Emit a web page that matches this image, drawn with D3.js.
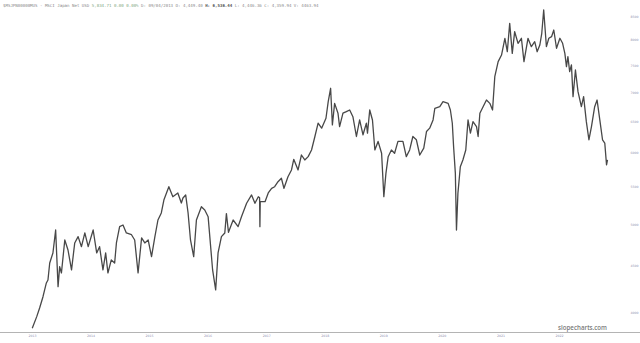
<!DOCTYPE html>
<html>
<head>
<meta charset="utf-8">
<script src="https://cdn.jsdelivr.net/npm/d3@7/dist/d3.min.js"></script>
<style>
  html, body { margin: 0; padding: 0; background: #fff; }
  svg { display: block; }
</style>
</head>
<body>
<svg id="chart" width="640" height="343"></svg>
<script>
// ---- data ----
const dates = [
"2013-01-15","2013-02-12","2013-03-02","2013-03-23","2013-04-13","2013-04-23","2013-05-04","2013-05-24","2013-06-10","2013-06-25","2013-07-05","2013-07-16","2013-08-06","2013-08-26","2013-09-17","2013-10-07","2013-10-28","2013-11-18","2013-12-09","2013-12-30",
"2014-01-30","2014-02-21","2014-03-11","2014-04-01","2014-04-18","2014-05-02","2014-05-23","2014-06-13","2014-06-24","2014-07-14","2014-08-04","2014-08-25","2014-09-26","2014-10-16","2014-11-06","2014-11-28","2014-12-18",
"2015-01-08","2015-01-29","2015-02-19","2015-03-10","2015-03-31","2015-04-16","2015-05-17","2015-06-11","2015-07-12","2015-08-03","2015-08-13","2015-08-30","2015-09-14","2015-09-29","2015-10-19","2015-11-05","2015-12-06","2015-12-27",
"2016-01-17","2016-02-14","2016-03-04","2016-03-19","2016-04-09","2016-04-30","2016-05-10","2016-05-23","2016-06-21","2016-07-22","2016-08-12","2016-09-13","2016-10-14","2016-11-04","2016-11-25","2016-12-03","2016-12-05","2016-12-07",
"2017-01-06","2017-01-26","2017-02-16","2017-03-07","2017-03-28","2017-04-18","2017-05-04","2017-05-29","2017-06-20","2017-07-04","2017-07-31","2017-08-21","2017-09-11","2017-10-02","2017-10-23","2017-11-13","2017-12-03","2017-12-25",
"2018-01-21","2018-02-04","2018-02-19","2018-03-02","2018-03-16","2018-04-06","2018-04-16","2018-05-07","2018-05-28","2018-06-18","2018-07-08","2018-07-30","2018-08-19","2018-09-09","2018-09-30","2018-10-07","2018-10-21","2018-11-07","2018-11-22","2018-12-12",
"2019-01-03","2019-01-17","2019-01-30","2019-02-13","2019-03-05","2019-03-25","2019-04-15","2019-05-16","2019-06-06","2019-06-27","2019-07-17","2019-08-08","2019-08-29","2019-09-23","2019-10-10","2019-10-30","2019-11-20","2019-12-01",
"2020-01-01","2020-01-21","2020-02-22","2020-03-07","2020-03-19","2020-03-27","2020-04-07","2020-04-14","2020-04-23","2020-05-08","2020-05-24","2020-06-11","2020-06-25","2020-07-10","2020-07-26","2020-08-17","2020-08-27","2020-09-07","2020-09-27","2020-10-18","2020-11-08","2020-11-25","2020-12-09","2020-12-30",
"2021-01-20","2021-02-10","2021-02-25","2021-03-12","2021-03-28","2021-04-12","2021-05-03","2021-05-24","2021-06-09","2021-07-04","2021-07-25","2021-08-15","2021-08-30","2021-09-16","2021-09-28","2021-10-10","2021-10-27","2021-11-11","2021-11-28","2021-12-12","2021-12-29",
"2022-01-19","2022-02-05","2022-02-19","2022-03-01","2022-03-10","2022-03-21","2022-04-01","2022-04-11","2022-04-26","2022-05-12","2022-06-02","2022-06-16","2022-07-03","2022-07-19","2022-08-04","2022-08-24","2022-09-08","2022-09-25","2022-10-12","2022-10-26","2022-11-06","2022-11-12"
];
const closeValues = [
3837,3953,4041,4159,4307,4340,4532,4649,4929,4267,4490,4418,4805,4684,4452,4769,4846,4724,4892,4724,
4929,4649,4724,4452,4649,4418,4567,4532,4769,4971,4992,4892,4870,4805,4418,4830,4769,
4805,4605,4846,5056,5147,5320,5503,5365,5416,5280,5347,5389,5147,4805,4605,5056,5230,5187,
5099,4452,4231,4649,4846,4892,5140,4900,5056,4971,5099,5276,5389,5276,5365,5350,4971,5297,
5297,5416,5481,5503,5574,5623,5481,5645,5743,5901,5743,5966,5891,5941,6043,6254,6469,6388,
6551,6834,7071,6441,6805,6636,6414,6636,6662,6691,6578,6254,6523,6281,6469,6308,6691,6523,6043,6176,
5992,5365,5694,5941,6043,5992,6176,6176,5941,6043,6254,6202,5966,6072,6333,6388,6523,6720,
6747,6834,6805,6691,6469,6097,5694,4929,5413,5791,5891,6043,6523,6308,6495,6414,6254,6636,6747,6863,6805,6691,7283,7567,
7696,8031,7761,8343,7729,8167,7929,8031,7567,8031,7861,7962,7761,7895,8134,8631,7861,8031,8064,8202,7830,
8031,7929,7729,7472,7664,7377,7505,6922,7408,7010,6747,6922,6495,6202,6414,6747,6863,6523,6202,6151,5817,5891
];
const yTickValues = [8500, 8000, 7500, 7000, 6500, 6000, 5500, 5000, 4500, 4000];
const xTickYears = [2013, 2014, 2015, 2016, 2017, 2018, 2019, 2020, 2021, 2022];
const headerParts = [
  {t: "$MSJPN00000MUS - MSCI Japan Net USD ", c: "#8a8a8a", w: "normal"},
  {t: "5,834.71 0.00 0.00% ", c: "#7fa87f", w: "normal"},
  {t: "D: 09/04/2013 O: 4,449.40 ", c: "#8a8a8a", w: "normal"},
  {t: "H: 6,536.44 ", c: "#555", w: "bold"},
  {t: "L: 4,446.36 C: 4,359.94 V: 4463.94", c: "#8a8a8a", w: "normal"}
];

// ---- build ----
const parse = d3.timeParse("%Y-%m-%d");
const series = dates.map((d, i) => ({date: parse(d), value: closeValues[i]}));

const svg = d3.select("#chart");

const x = d3.scaleTime()
  .domain([new Date(2013, 0, 1), new Date(2022, 0, 1)])
  .range([30, 557]);
const y = d3.scaleLog()
  .domain([4000, 8500])
  .range([312, 16]);

// header (one text, tspans flow naturally)
const header = svg.append("text")
  .attr("x", 3).attr("y", 6.6)
  .attr("font-family", "DejaVu Sans Mono, monospace")
  .attr("font-size", 4.1)
  .attr("xml:space", "preserve");
headerParts.forEach(p => {
  header.append("tspan").text(p.t).attr("fill", p.c).attr("font-weight", p.w);
});

// price line
const line = d3.line()
  .x(d => x(d.date))
  .y(d => y(d.value));
svg.append("path")
  .datum(series)
  .attr("fill", "none")
  .attr("stroke", "#484848")
  .attr("stroke-width", 1.3)
  .attr("stroke-linejoin", "round")
  .attr("d", line);

// bottom axis line
svg.append("line")
  .attr("x1", 0).attr("x2", 640)
  .attr("y1", 332.5).attr("y2", 332.5)
  .attr("stroke", "#b4b4b4").attr("stroke-width", 1);

// x axis labels
const xAxis = d3.axisBottom(x)
  .tickValues(xTickYears.map(yr => new Date(yr, 0, 1)))
  .tickFormat(d3.timeFormat("%Y"))
  .tickSize(0)
  .tickPadding(0);
const gx = svg.append("g").attr("transform", "translate(2,334.5)").call(xAxis);
gx.select(".domain").remove();
gx.selectAll("text")
  .attr("fill", "#8f8fb0")
  .attr("font-family", "DejaVu Sans, sans-serif")
  .attr("font-size", 3.2);

// y axis labels (right)
const yAxis = d3.axisRight(y)
  .tickValues(yTickValues)
  .tickFormat(d3.format("d"))
  .tickSize(0)
  .tickPadding(0);
const gy = svg.append("g").attr("transform", "translate(630.5,0)").call(yAxis);
gy.select(".domain").remove();
gy.selectAll("text")
  .attr("fill", "#8f8fb0")
  .attr("font-family", "DejaVu Sans, sans-serif")
  .attr("font-size", 3.2);

// watermark
svg.append("text")
  .attr("x", 558).attr("y", 329.5)
  .attr("font-family", "Open Sans, DejaVu Sans, sans-serif")
  .attr("font-weight", 600)
  .attr("font-size", 7)
  .attr("fill", "#7a7a7a")
  .attr("textLength", 49)
  .attr("lengthAdjust", "spacingAndGlyphs")
  .text("slopecharts.com");
</script>
</body>
</html>
